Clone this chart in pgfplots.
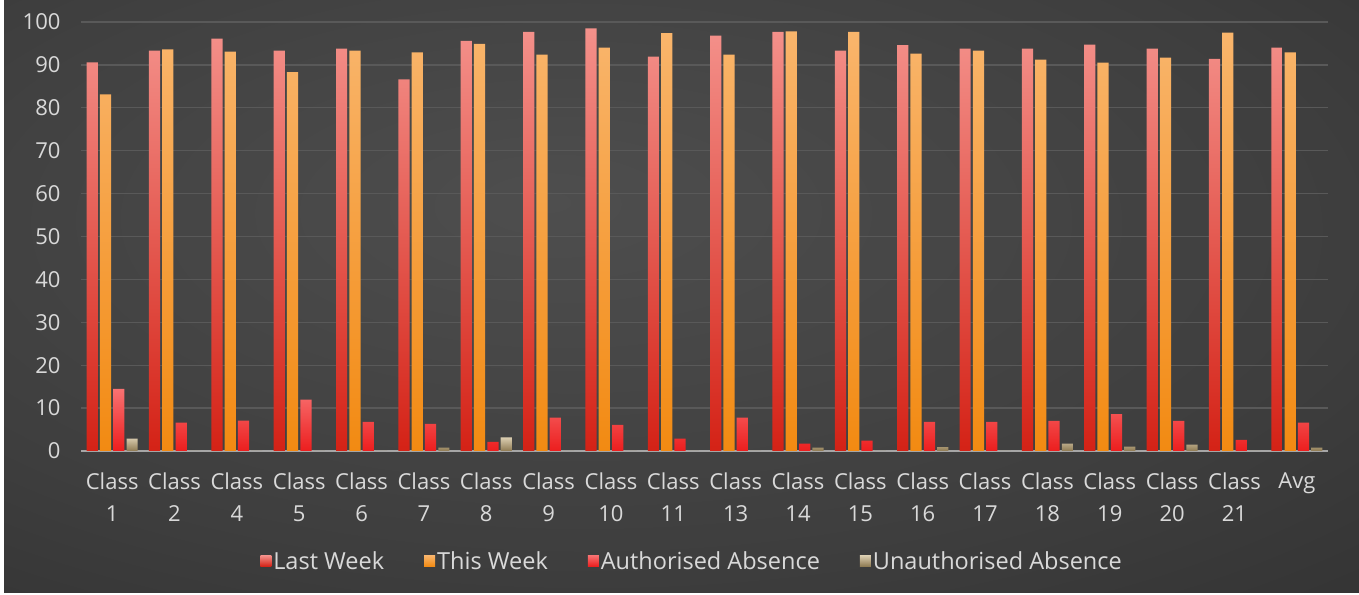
\documentclass[border=0pt]{standalone}
\usepackage{pgfplots}
\pgfplotsset{compat=1.18}
\usepackage{fontspec}
\setmainfont{Open Sans}
\definecolor{txt}{HTML}{D9D9D9}
\definecolor{gridgray}{HTML}{595959}
\definecolor{axisgray}{HTML}{A6A6A6}
\definecolor{bgA}{HTML}{4E4E4E}
\definecolor{bgB}{HTML}{3E3E3E}
\definecolor{bgC}{HTML}{242424}
\definecolor{lwT}{HTML}{F4918B}
\definecolor{lwB}{HTML}{D42216}
\definecolor{twT}{HTML}{F9B56C}
\definecolor{twB}{HTML}{F28A12}
\definecolor{aaT}{HTML}{F87272}
\definecolor{aaB}{HTML}{EC1E1E}
\definecolor{uaT}{HTML}{DCCFB2}
\definecolor{uaB}{HTML}{8E7A52}
\pgfdeclareradialshading{bgshade}{\pgfpoint{-5bp}{8bp}}{color(0bp)=(bgA); color(28bp)=(bgB); color(62bp)=(bgC); color(90bp)=(bgC)}
\newcommand{\lbl}{\fontsize{22}{29}\selectfont}
\newcommand{\lgd}{\fontsize{23.5}{29}\selectfont}
\begin{document}
\begin{tikzpicture}
\useasboundingbox (0,0) rectangle (1359pt,594pt);
\fill[white] (0,0) rectangle (1359pt,594pt);
\shade[shading=bgshade] (4pt,2pt) rectangle (1359pt,594pt);
\begin{axis}[
  at={(81pt,143pt)}, anchor=south west,
  scale only axis, width=1247pt, height=429pt,
  xmin=-0.5, xmax=19.5, ymin=0, ymax=100,
  ytick={0,10,...,100},
  xtick={0,...,19},
  xticklabels={{Class\\[3pt]1},{Class\\[3pt]2},{Class\\[3pt]4},{Class\\[3pt]5},{Class\\[3pt]6},{Class\\[3pt]7},{Class\\[3pt]8},{Class\\[3pt]9},{Class\\[3pt]10},{Class\\[3pt]11},{Class\\[3pt]13},{Class\\[3pt]14},{Class\\[3pt]15},{Class\\[3pt]16},{Class\\[3pt]17},{Class\\[3pt]18},{Class\\[3pt]19},{Class\\[3pt]20},{Class\\[3pt]21},{Avg\\[3pt]\strut}},
  xticklabel style={align=center, font=\lbl, text=txt, yshift=-18pt},
  yticklabel style={font=\lbl, text=txt, xshift=-17pt},
  /pgf/number format/assume math mode=true,
  major tick length=0pt,
  axis lines*=left, separate axis lines,
  x axis line style={axisgray, line width=2.5pt},
  y axis line style={draw=none},
  ymajorgrids, grid style={gridgray, line width=1.3pt},
  ybar, bar width=0.18,
  legend style={at={(axis description cs:0.49,-0.256)}, anchor=center, draw=none, fill=none, text=txt, font=\lgd, legend columns=-1, /tikz/every even column/.append style={column sep=38pt}},
  legend image code/.code={\fill[#1] (0pt,-5.5pt) rectangle (11pt,5.5pt);},
]
\addplot[draw=none, bar shift=-0.32, top color=lwT, bottom color=lwB] coordinates {
(0,90.6) (1,93.3) (2,96.1) (3,93.3) (4,93.8) (5,86.6) (6,95.6) (7,97.7) (8,98.5) (9,91.9)
(10,96.8) (11,97.7) (12,93.3) (13,94.6) (14,93.8) (15,93.8) (16,94.7) (17,93.8) (18,91.4) (19,94.0)};
\addplot[draw=none, bar shift=-0.107, top color=twT, bottom color=twB] coordinates {
(0,83.1) (1,93.6) (2,93.1) (3,88.3) (4,93.3) (5,92.9) (6,94.9) (7,92.4) (8,94.0) (9,97.4)
(10,92.4) (11,97.8) (12,97.7) (13,92.6) (14,93.3) (15,91.2) (16,90.5) (17,91.7) (18,97.5) (19,92.9)};
\addplot[draw=none, bar shift=0.107, top color=aaT, bottom color=aaB] coordinates {
(0,14.5) (1,6.6) (2,7.1) (3,12.0) (4,6.8) (5,6.3) (6,2.1) (7,7.8) (8,6.1) (9,2.9)
(10,7.8) (11,1.7) (12,2.4) (13,6.8) (14,6.8) (15,7.0) (16,8.6) (17,7.0) (18,2.6) (19,6.6)};
\addplot[draw=none, bar shift=0.32, top color=uaT, bottom color=uaB] coordinates {
(0,2.9) (1,0) (2,0) (3,0) (4,0) (5,0.8) (6,3.2) (7,0) (8,0) (9,0)
(10,0) (11,0.8) (12,0) (13,0.9) (14,0) (15,1.7) (16,1.0) (17,1.5) (18,0) (19,0.8)};
\legend{Last Week, This Week, Authorised Absence, Unauthorised Absence}
\end{axis}
\end{tikzpicture}
\end{document}
